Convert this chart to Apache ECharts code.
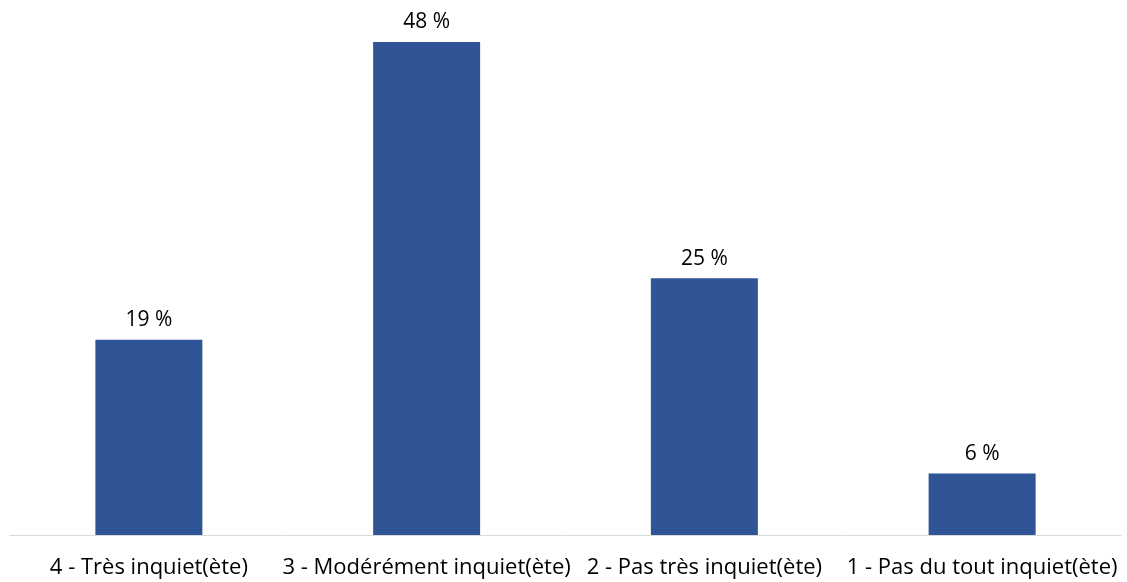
<!DOCTYPE html>
<html>
<head>
<meta charset="utf-8">
<script src="https://cdn.jsdelivr.net/npm/echarts@6/dist/echarts.min.js"></script>
<style>
  html, body { margin: 0; padding: 0; background: #fff; }
  #main { width: 1127px; height: 582px; }
</style>
</head>
<body>
<div id="main"></div>
<script>
  var categories = ['4 - Très inquiet(ète)', '3 - Modérément inquiet(ète)', '2 - Pas très inquiet(ète)', '1 - Pas du tout inquiet(ète)'];
  var values = [19, 48, 25, 6];

  var chart = echarts.init(document.getElementById('main'));

  var option = {
    animation: false,
    grid: { left: 10, right: 6, top: 42, bottom: 47, containLabel: false },
    xAxis: {
      type: 'category',
      data: categories,
      axisTick: { show: false },
      axisLine: { lineStyle: { color: '#d9d9d9', width: 1 } },
      axisLabel: {
        interval: 0,
        margin: 22,
        color: '#000',
        fontSize: 22,
        fontFamily: 'Open Sans'
      }
    },
    yAxis: {
      type: 'value',
      min: 0,
      max: 48,
      show: false,
      splitLine: { show: false }
    },
    series: [{
      type: 'bar',
      data: values,
      barWidth: 107,
      itemStyle: { color: '#2F5597' },
      label: {
        show: true,
        position: 'top',
        distance: 9,
        formatter: '{c} %',
        color: '#000',
        fontSize: 21,
        fontFamily: 'Open Sans'
      }
    }]
  };

  chart.setOption(option);
</script>
</body>
</html>
